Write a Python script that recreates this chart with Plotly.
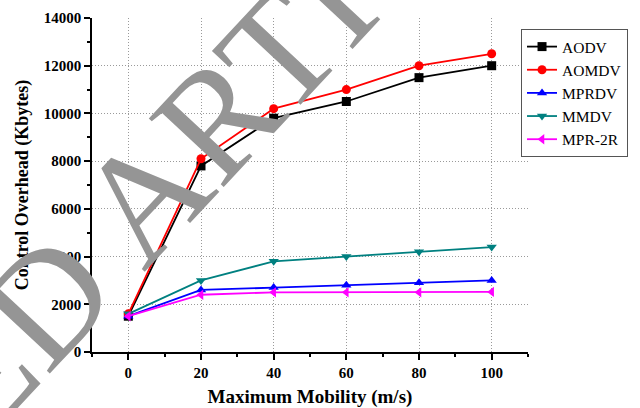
import plotly.graph_objects as go

# Maximum node speed (m/s)
mobility = [0, 20, 40, 60, 80, 100]

# Control overhead per routing protocol (Kbytes)
aodv = [1500, 7800, 9800, 10500, 11500, 12000]
aomdv = [1600, 8100, 10200, 11000, 12000, 12500]
mprdv = [1500, 2600, 2700, 2800, 2900, 3000]
mmdv = [1600, 3000, 3800, 4000, 4200, 4400]
mpr2r = [1500, 2400, 2500, 2500, 2500, 2520]

series = [
    ("AODV", aodv, "#000000", "square"),
    ("AOMDV", aomdv, "#ff0000", "circle"),
    ("MPRDV", mprdv, "#0000ff", "triangle-up"),
    ("MMDV", mmdv, "#008080", "triangle-down"),
    ("MPR-2R", mpr2r, "#ff00ff", "triangle-left"),
]

SERIF = "Liberation Serif"

fig = go.Figure()
for name, values, color, symbol in series:
    fig.add_trace(go.Scatter(
        x=mobility, y=values, name=name, mode="lines+markers",
        line=dict(color=color, width=1.8),
        marker=dict(symbol=symbol, size=9, color=color),
    ))

axis_common = dict(
    showline=True, linecolor="#000000", linewidth=1.5,
    ticks="outside", ticklen=6, tickwidth=1.5, tickcolor="#000000",
    showgrid=True, gridcolor="#9a9a9a", gridwidth=1, griddash="1px,2px",
    zeroline=False, mirror=False, automargin=False,
    tickfont=dict(family=SERIF, size=15, color="#000000", weight="bold"),
)

fig.update_xaxes(
    range=[-10, 110], tickvals=mobility, ticklabelstandoff=0,
    minor=dict(dtick=10, tick0=0, ticks="outside", ticklen=3,
               tickwidth=1.5, tickcolor="#000000", showgrid=False),
    title=dict(text="Maximum Mobility (m/s)", standoff=12,
               font=dict(family=SERIF, size=19, color="#000000", weight="bold")),
    **axis_common,
)
fig.update_yaxes(
    range=[0, 14000], dtick=2000, tick0=0, tickformat="d",
    minor=dict(dtick=1000, tick0=0, ticks="outside", ticklen=3,
               tickwidth=1.5, tickcolor="#000000", showgrid=False),
    title=dict(text="Control Overhead (Kbytes)", standoff=10,
               font=dict(family=SERIF, size=18, color="#000000", weight="bold")),
    **axis_common,
)

# Diagonal watermark across the figure
fig.add_annotation(
    text="RETRACTED ARTICLE", xref="paper", yref="paper",
    x=-0.201, y=0.018, xanchor="center", yanchor="middle",
    showarrow=False, textangle=-47,
    font=dict(family=SERIF, size=155, color="#959595"),
)

fig.update_layout(
    width=640, height=408,
    margin=dict(l=92, r=110, t=18, b=56),
    paper_bgcolor="#ffffff", plot_bgcolor="#ffffff",
    showlegend=True,
    legend=dict(
        x=0.984, y=0.967, xanchor="left", yanchor="top",
        bordercolor="#555555", borderwidth=1, bgcolor="#ffffff",
        font=dict(family=SERIF, size=15.5, color="#000000"),
        tracegroupgap=0,
    ),
)

fig.write_html("out.html")
